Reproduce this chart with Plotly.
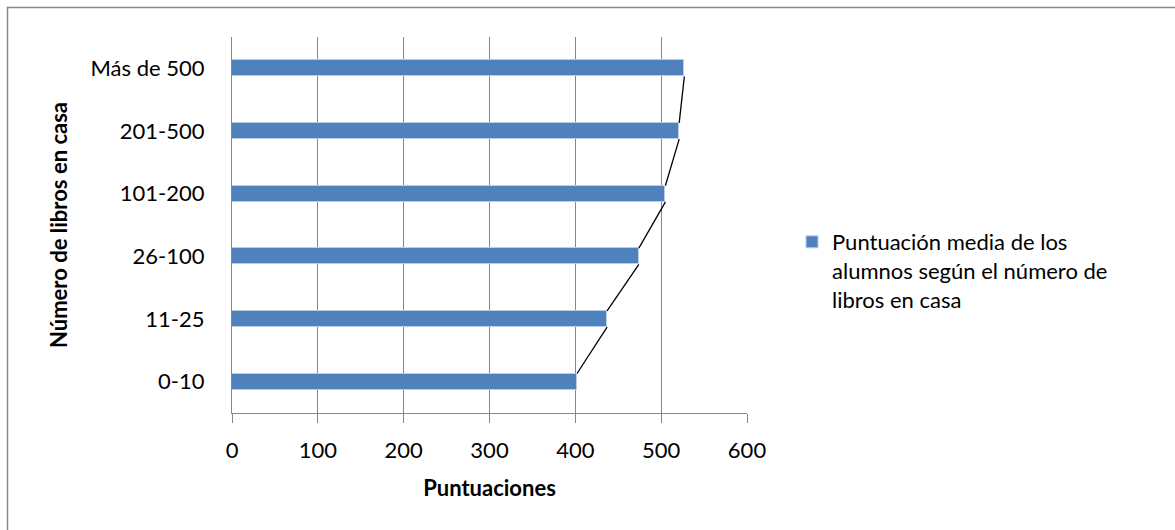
import plotly.graph_objects as go

categories = ["0-10", "11-25", "26-100", "101-200", "201-500", "Más de 500"]
scores = [402, 437, 474, 505, 521, 527]
series_name = "Puntuación media de los<br>alumnos según el número de<br>libros en casa"
x_ticks = [0, 100, 200, 300, 400, 500, 600]

FONT = "Lato"
FS = 22
GRID = "#868686"
BAR_W = 0.26

pos = list(range(len(categories)))

fig = go.Figure()
fig.add_trace(go.Bar(
    x=scores, y=pos, orientation="h", width=BAR_W,
    marker=dict(color="#4F81BD", line=dict(color="#B9CDE5", width=1)),
    name=series_name, showlegend=True, hoverinfo="x+y",
))

# series lines connecting bar ends (top of one bar to bottom of the next)
lx, ly = [], []
for i in range(len(scores) - 1):
    lx += [scores[i], scores[i + 1], None]
    ly += [pos[i] + BAR_W / 2, pos[i + 1] - BAR_W / 2, None]
fig.add_trace(go.Scatter(x=lx, y=ly, mode="lines", line=dict(color="black", width=1.3),
                         showlegend=False, hoverinfo="skip"))

W, H = 1175, 530
L, R, T, B = 232, 747, 37, 413
pw, ph = R - L, B - T

def px_x(v):
    return (v - L) / pw

def px_y(v):
    return (B - v) / ph

fig.add_shape(type="rect", xref="paper", yref="paper",
              x0=px_x(7.5), x1=px_x(1200), y0=px_y(560), y1=px_y(7.5),
              line=dict(color=GRID, width=1.5), layer="below")

fig.update_layout(
    width=W, height=H,
    margin=dict(l=L, r=W - R, t=T, b=H - B),
    paper_bgcolor="white", plot_bgcolor="white",
    font=dict(family=FONT, size=FS, color="black"),
    bargap=0,
    xaxis=dict(
        range=[0, 600], tickvals=x_ticks, ticktext=[str(t) for t in x_ticks],
        showgrid=True, gridcolor=GRID, gridwidth=1.2,
        showline=True, linecolor=GRID, linewidth=1.2,
        ticks="outside", ticklen=9, tickcolor=GRID, tickwidth=1.2,
        ticklabelstandoff=8, zeroline=False,
        title=dict(text="<b>Puntuaciones</b>", font=dict(family=FONT, size=FS), standoff=19),
        fixedrange=True,
    ),
    yaxis=dict(
        range=[-0.5, 5.5], tickvals=pos, ticktext=categories,
        showgrid=False, showline=True, linecolor=GRID, linewidth=1.2,
        ticks="", ticklabelstandoff=22, zeroline=False,
        title=dict(text="<b>Número de libros en casa</b>", font=dict(family=FONT, size=FS), standoff=16),
        fixedrange=True,
    ),
    legend=dict(
        x=px_x(792), y=px_y(221), xanchor="left", yanchor="top", valign="top",
        font=dict(family=FONT, size=FS), itemwidth=30, bgcolor="rgba(0,0,0,0)",
    ),
    showlegend=True,
)

fig.write_html("out.html", config={"displayModeBar": False},
               post_script="document.body.style.margin='0';document.body.style.overflow='hidden';")
